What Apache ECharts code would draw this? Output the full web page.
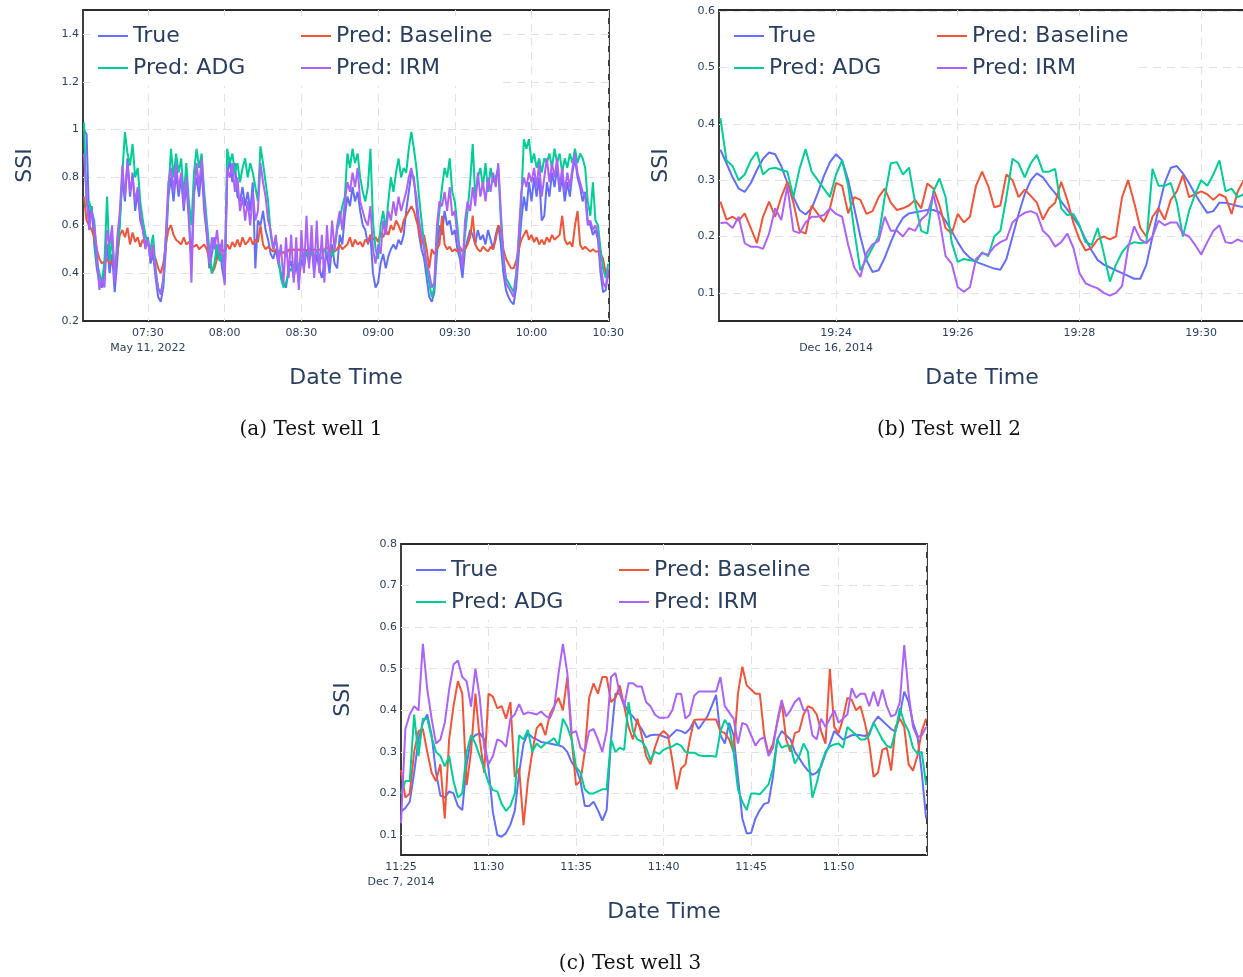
<!DOCTYPE html>
<html>
<head>
<meta charset="utf-8">
<script src="https://cdn.jsdelivr.net/npm/echarts@6/dist/echarts.min.js"></script>
<style>
  html, body { margin: 0; background: #fff; }
  #chart { width: 1243px; height: 977px; }
</style>
</head>
<body>
<div id="chart"></div>
<script>
// ---- data: times are minutes after midnight, one reading per sample step ----
// (a) Test well 1, 1 min steps from 07:05
const aStart = 425, aStep = 1
const aXTicks = ['07:30', '08:00', '08:30', '09:00', '09:30', '10:00', '10:30']
const aYTicks = [0.2, 0.4, 0.6, 0.8, 1, 1.2, 1.4]
const aTrue = [
  1.00,0.98,0.62,0.68,0.52,0.42,0.36,0.34,0.40,0.52, 0.40,0.48,0.32,0.45,0.62,0.80,0.70,0.88,0.72,0.82,
  0.66,0.74,0.62,0.58,0.52,0.55,0.44,0.48,0.38,0.30, 0.28,0.34,0.50,0.72,0.80,0.70,0.82,0.72,0.80,0.66,
  0.78,0.62,0.45,0.74,0.80,0.72,0.84,0.66,0.56,0.42, 0.48,0.55,0.46,0.52,0.42,0.36,0.80,0.88,0.78,0.86,
  0.72,0.70,0.76,0.68,0.74,0.66,0.78,0.42,0.62,0.60, 0.66,0.58,0.54,0.48,0.46,0.50,0.44,0.40,0.36,0.34,
  0.42,0.45,0.38,0.44,0.36,0.46,0.42,0.50,0.44,0.52, 0.40,0.48,0.42,0.38,0.44,0.48,0.40,0.52,0.44,0.42,
  0.56,0.52,0.64,0.72,0.68,0.76,0.70,0.74,0.66,0.60, 0.58,0.52,0.56,0.40,0.34,0.36,0.44,0.48,0.42,0.47,
  0.50,0.52,0.50,0.54,0.52,0.56,0.66,0.74,0.82,0.80, 0.68,0.56,0.50,0.46,0.38,0.30,0.28,0.32,0.48,0.60,
  0.56,0.66,0.60,0.62,0.56,0.58,0.50,0.46,0.38,0.50, 0.54,0.58,0.56,0.52,0.58,0.54,0.56,0.52,0.58,0.54,
  0.50,0.56,0.60,0.52,0.40,0.33,0.30,0.28,0.27,0.34, 0.48,0.62,0.72,0.66,0.78,0.70,0.80,0.72,0.80,0.62,
  0.64,0.78,0.72,0.82,0.76,0.84,0.74,0.80,0.70,0.78, 0.72,0.82,0.88,0.80,0.76,0.70,0.74,0.62,0.60,0.56,
  0.58,0.54,0.40,0.32,0.33,0.40
]
const aBaseline = [
  0.72,0.62,0.60,0.58,0.55,0.50,0.46,0.44,0.45,0.46, 0.44,0.45,0.42,0.48,0.56,0.58,0.55,0.59,0.52,0.57,
  0.53,0.55,0.51,0.54,0.52,0.53,0.50,0.48,0.46,0.42, 0.40,0.44,0.52,0.58,0.60,0.56,0.54,0.53,0.52,0.55,
  0.52,0.53,0.52,0.51,0.52,0.50,0.51,0.52,0.50,0.46, 0.40,0.42,0.46,0.48,0.50,0.49,0.52,0.50,0.53,0.51,
  0.54,0.51,0.55,0.52,0.53,0.55,0.52,0.54,0.53,0.60, 0.52,0.50,0.51,0.50,0.49,0.50,0.49,0.48,0.49,0.47,
  0.50,0.49,0.50,0.49,0.50,0.49,0.50,0.49,0.50,0.49, 0.50,0.49,0.50,0.49,0.50,0.51,0.49,0.50,0.49,0.50,
  0.52,0.50,0.51,0.52,0.55,0.51,0.54,0.52,0.53,0.51, 0.54,0.53,0.56,0.54,0.55,0.53,0.57,0.55,0.58,0.56,
  0.60,0.58,0.62,0.60,0.57,0.62,0.64,0.66,0.68,0.66, 0.62,0.58,0.52,0.56,0.50,0.42,0.50,0.48,0.50,0.52,
  0.64,0.52,0.50,0.51,0.49,0.50,0.49,0.51,0.49,0.50, 0.52,0.55,0.64,0.52,0.50,0.49,0.51,0.50,0.49,0.51,
  0.50,0.54,0.60,0.58,0.50,0.46,0.44,0.42,0.42,0.45, 0.50,0.54,0.56,0.58,0.54,0.56,0.53,0.55,0.52,0.54,
  0.52,0.55,0.53,0.56,0.54,0.55,0.56,0.64,0.54,0.52, 0.53,0.51,0.60,0.66,0.52,0.50,0.51,0.50,0.49,0.50,
  0.49,0.49,0.48,0.46,0.40,0.38
]
const aADG = [
  1.03,0.68,0.70,0.66,0.62,0.45,0.40,0.36,0.45,0.72, 0.45,0.55,0.40,0.50,0.60,0.82,0.99,0.90,0.85,0.94,
  0.80,0.84,0.70,0.62,0.56,0.52,0.50,0.56,0.42,0.33, 0.32,0.36,0.55,0.74,0.92,0.80,0.90,0.82,0.88,0.72,
  0.86,0.70,0.60,0.82,0.92,0.84,0.90,0.74,0.62,0.50, 0.40,0.44,0.52,0.45,0.48,0.38,0.92,0.86,0.90,0.82,
  0.86,0.78,0.84,0.88,0.80,0.86,0.82,0.76,0.70,0.93, 0.86,0.78,0.70,0.56,0.50,0.54,0.48,0.38,0.34,0.36,
  0.40,0.42,0.40,0.46,0.42,0.48,0.46,0.48,0.50,0.48, 0.46,0.50,0.47,0.46,0.50,0.48,0.50,0.47,0.50,0.58,
  0.62,0.68,0.72,0.90,0.84,0.92,0.86,0.90,0.80,0.74, 0.70,0.76,0.92,0.62,0.50,0.46,0.60,0.66,0.58,0.70,
  0.80,0.74,0.82,0.88,0.80,0.84,0.82,0.92,0.99,0.92, 0.84,0.72,0.62,0.52,0.42,0.36,0.30,0.34,0.56,0.66,
  0.76,0.84,0.80,0.88,0.74,0.70,0.60,0.48,0.44,0.56, 0.66,0.78,0.94,0.72,0.80,0.84,0.76,0.86,0.74,0.84,
  0.78,0.80,0.84,0.62,0.46,0.38,0.36,0.34,0.32,0.40, 0.54,0.70,0.96,0.92,0.96,0.86,0.90,0.84,0.88,0.82,
  0.88,0.86,0.90,0.84,0.92,0.86,0.90,0.82,0.88,0.84, 0.90,0.86,0.92,0.86,0.90,0.88,0.84,0.70,0.64,0.78,
  0.62,0.60,0.50,0.42,0.38,0.44
]
const aIRM = [
  0.90,0.72,0.58,0.66,0.60,0.50,0.33,0.38,0.34,0.58, 0.52,0.60,0.36,0.55,0.66,0.85,0.72,0.86,0.74,0.80,
  0.70,0.76,0.65,0.58,0.50,0.54,0.46,0.52,0.40,0.34, 0.31,0.38,0.56,0.78,0.84,0.74,0.86,0.75,0.82,0.68,
  0.80,0.66,0.36,0.72,0.86,0.76,0.88,0.70,0.58,0.44, 0.55,0.50,0.58,0.48,0.54,0.35,0.84,0.80,0.86,0.74,
  0.80,0.66,0.72,0.62,0.70,0.60,0.74,0.62,0.66,0.86, 0.78,0.72,0.62,0.58,0.50,0.56,0.44,0.52,0.36,0.55,
  0.38,0.56,0.36,0.55,0.33,0.58,0.40,0.64,0.42,0.60, 0.38,0.62,0.40,0.56,0.36,0.60,0.44,0.62,0.50,0.60,
  0.66,0.58,0.70,0.78,0.74,0.82,0.76,0.84,0.70,0.66, 0.62,0.60,0.68,0.50,0.44,0.52,0.48,0.62,0.56,0.66,
  0.62,0.70,0.64,0.72,0.66,0.70,0.74,0.80,0.84,0.78, 0.72,0.62,0.56,0.50,0.44,0.40,0.34,0.36,0.60,0.70,
  0.68,0.74,0.66,0.76,0.64,0.66,0.55,0.50,0.42,0.62, 0.70,0.66,0.76,0.68,0.82,0.72,0.78,0.70,0.80,0.74,
  0.82,0.76,0.86,0.66,0.48,0.36,0.34,0.32,0.30,0.38, 0.56,0.74,0.80,0.76,0.82,0.78,0.84,0.76,0.86,0.72,
  0.80,0.88,0.78,0.86,0.80,0.88,0.76,0.84,0.74,0.82, 0.76,0.84,0.90,0.82,0.78,0.74,0.72,0.60,0.62,0.58,
  0.60,0.56,0.44,0.36,0.34,0.42
]

// (b) Test well 2, 6 s steps from 19:22:06
const bStart = 1162.1, bStep = 0.1
const bXTicks = ['19:24', '19:26', '19:28', '19:30']
const bYTicks = [0.1, 0.2, 0.3, 0.4, 0.5, 0.6]
const bTrue = [
  0.354,0.33,0.305,0.285,0.279,0.295,0.318,0.338,0.349,0.346,
  0.325,0.295,0.27,0.247,0.239,0.25,0.277,0.307,0.332,0.346,
  0.335,0.3,0.25,0.2,0.158,0.137,0.14,0.162,0.19,0.215,
  0.233,0.241,0.243,0.245,0.247,0.247,0.243,0.228,0.21,0.19,
  0.173,0.162,0.155,0.151,0.147,0.143,0.141,0.16,0.2,0.24,
  0.275,0.3,0.312,0.305,0.29,0.277,0.262,0.248,0.233,0.218,
  0.195,0.175,0.158,0.15,0.145,0.14,0.135,0.13,0.125,0.125,
  0.15,0.2,0.25,0.295,0.322,0.325,0.312,0.295,0.275,0.258,
  0.242,0.245,0.26,0.26,0.257,0.254,0.252
]
const bBaseline = [
  0.262,0.23,0.235,0.228,0.241,0.215,0.188,0.235,0.262,0.235,
  0.27,0.297,0.26,0.21,0.205,0.255,0.24,0.226,0.25,0.295,
  0.29,0.241,0.27,0.265,0.24,0.245,0.27,0.285,0.26,0.247,
  0.25,0.255,0.265,0.25,0.294,0.285,0.255,0.215,0.205,0.24,
  0.225,0.235,0.29,0.315,0.29,0.252,0.255,0.31,0.3,0.27,
  0.283,0.272,0.26,0.23,0.25,0.26,0.297,0.265,0.224,0.195,
  0.175,0.18,0.195,0.2,0.195,0.2,0.27,0.3,0.26,0.215,
  0.2,0.235,0.25,0.23,0.265,0.28,0.309,0.27,0.275,0.28,
  0.275,0.265,0.275,0.27,0.24,0.28,0.3
]
const bADG = [
  0.41,0.335,0.325,0.30,0.31,0.335,0.35,0.31,0.32,0.322,
  0.318,0.315,0.27,0.32,0.355,0.315,0.30,0.285,0.27,0.31,
  0.335,0.29,0.21,0.14,0.16,0.18,0.20,0.27,0.33,0.332,
  0.31,0.322,0.26,0.21,0.205,0.28,0.303,0.27,0.19,0.155,
  0.16,0.158,0.155,0.172,0.165,0.2,0.21,0.27,0.338,0.33,
  0.305,0.33,0.345,0.315,0.315,0.32,0.25,0.238,0.24,0.22,
  0.19,0.185,0.215,0.17,0.12,0.15,0.172,0.185,0.19,0.188,
  0.19,0.32,0.29,0.29,0.295,0.26,0.2,0.245,0.275,0.3,
  0.29,0.31,0.335,0.28,0.285,0.27,0.275
]
const bIRM = [
  0.224,0.225,0.215,0.235,0.188,0.182,0.182,0.178,0.205,0.25,
  0.229,0.29,0.21,0.206,0.225,0.235,0.235,0.238,0.25,0.24,
  0.235,0.185,0.145,0.128,0.17,0.186,0.192,0.235,0.21,0.21,
  0.2,0.215,0.21,0.23,0.24,0.275,0.23,0.165,0.152,0.11,
  0.102,0.11,0.16,0.17,0.168,0.182,0.19,0.195,0.225,0.235,
  0.242,0.245,0.24,0.21,0.2,0.182,0.19,0.205,0.18,0.135,
  0.117,0.112,0.108,0.1,0.095,0.1,0.112,0.18,0.218,0.195,
  0.188,0.2,0.228,0.22,0.225,0.225,0.205,0.2,0.185,0.168,
  0.19,0.21,0.22,0.19,0.188,0.195,0.19
]

// (c) Test well 3, 15 s steps from 11:25
const cStart = 685, cStep = 0.25
const cXTicks = ['11:25', '11:30', '11:35', '11:40', '11:45', '11:50']
const cYTicks = [0.1, 0.2, 0.3, 0.4, 0.5, 0.6, 0.7, 0.8]
const cTrue = [
  0.156,0.165,0.18,0.25,0.33,0.37,0.39,0.34,0.25,0.195,
  0.19,0.205,0.2,0.17,0.16,0.27,0.33,0.34,0.345,0.33,
  0.26,0.155,0.1,0.096,0.105,0.125,0.158,0.25,0.32,0.345,
  0.335,0.33,0.324,0.322,0.32,0.318,0.316,0.312,0.3,0.275,
  0.26,0.23,0.17,0.17,0.18,0.16,0.135,0.16,0.33,0.44,
  0.44,0.415,0.395,0.385,0.37,0.355,0.335,0.34,0.341,0.341,
  0.337,0.333,0.343,0.353,0.35,0.345,0.355,0.375,0.355,0.37,
  0.385,0.41,0.437,0.34,0.32,0.37,0.34,0.24,0.14,0.104,
  0.105,0.14,0.16,0.175,0.178,0.24,0.33,0.35,0.34,0.33,
  0.3,0.285,0.268,0.255,0.245,0.25,0.265,0.295,0.32,0.35,
  0.34,0.33,0.335,0.34,0.341,0.34,0.338,0.345,0.37,0.385,
  0.375,0.365,0.355,0.349,0.39,0.445,0.42,0.37,0.34,0.25,
  0.14
]
const cBaseline = [
  0.256,0.19,0.2,0.3,0.35,0.355,0.3,0.25,0.23,0.27,
  0.14,0.33,0.41,0.47,0.44,0.22,0.30,0.44,0.33,0.25,
  0.44,0.433,0.405,0.41,0.38,0.42,0.24,0.26,0.124,0.23,
  0.30,0.357,0.369,0.34,0.39,0.41,0.43,0.40,0.48,0.33,
  0.22,0.23,0.3,0.43,0.465,0.44,0.48,0.48,0.42,0.43,
  0.46,0.41,0.36,0.33,0.38,0.34,0.29,0.27,0.31,0.34,
  0.35,0.34,0.28,0.21,0.26,0.27,0.33,0.377,0.378,0.378,
  0.378,0.378,0.378,0.35,0.345,0.33,0.3,0.44,0.505,0.46,
  0.45,0.44,0.44,0.34,0.295,0.32,0.37,0.421,0.33,0.3,
  0.345,0.35,0.39,0.41,0.405,0.39,0.35,0.32,0.5,0.36,
  0.345,0.38,0.43,0.425,0.4,0.41,0.37,0.32,0.24,0.25,
  0.305,0.31,0.255,0.36,0.38,0.36,0.27,0.255,0.29,0.35,
  0.38
]
const cADG = [
  0.2,0.23,0.23,0.39,0.29,0.38,0.38,0.335,0.3,0.29,
  0.265,0.29,0.23,0.19,0.2,0.3,0.34,0.32,0.29,0.26,
  0.225,0.208,0.205,0.175,0.158,0.17,0.2,0.34,0.33,0.353,
  0.3,0.32,0.31,0.32,0.325,0.333,0.315,0.38,0.36,0.33,
  0.264,0.25,0.21,0.2,0.2,0.205,0.21,0.21,0.33,0.3,
  0.31,0.305,0.42,0.35,0.33,0.325,0.31,0.28,0.3,0.295,
  0.305,0.31,0.313,0.32,0.315,0.3,0.298,0.298,0.292,0.29,
  0.29,0.29,0.288,0.35,0.377,0.36,0.3,0.21,0.18,0.16,
  0.2,0.2,0.198,0.21,0.222,0.26,0.33,0.31,0.315,0.315,
  0.272,0.29,0.32,0.3,0.19,0.225,0.27,0.3,0.313,0.318,
  0.32,0.31,0.36,0.35,0.34,0.33,0.33,0.34,0.37,0.35,
  0.33,0.315,0.31,0.35,0.405,0.37,0.35,0.31,0.296,0.3,
  0.22
]
const cIRM = [
  0.128,0.355,0.39,0.41,0.4,0.56,0.45,0.38,0.32,0.33,
  0.37,0.45,0.51,0.52,0.48,0.47,0.409,0.5,0.43,0.31,
  0.27,0.29,0.33,0.325,0.312,0.38,0.39,0.415,0.39,0.395,
  0.393,0.39,0.397,0.387,0.38,0.405,0.489,0.56,0.49,0.345,
  0.35,0.31,0.3,0.35,0.355,0.33,0.3,0.35,0.48,0.49,
  0.44,0.41,0.465,0.465,0.457,0.457,0.42,0.41,0.39,0.382,
  0.382,0.383,0.4,0.44,0.44,0.38,0.39,0.435,0.445,0.445,
  0.445,0.445,0.445,0.48,0.41,0.395,0.38,0.32,0.37,0.365,
  0.34,0.315,0.33,0.335,0.29,0.31,0.375,0.425,0.385,0.4,
  0.42,0.43,0.4,0.401,0.34,0.33,0.38,0.36,0.38,0.4,
  0.37,0.38,0.39,0.453,0.43,0.44,0.44,0.41,0.445,0.41,
  0.45,0.41,0.385,0.39,0.42,0.557,0.44,0.36,0.335,0.34,
  0.36
]

const COLORS = {
  'True': '#636efa',
  'Pred: Baseline': '#EF553B',
  'Pred: ADG': '#00cc96',
  'Pred: IRM': '#ab63fa'
}
const FONT = 'DejaVu Sans'
const INK = '#2a3f5f'

const pad = n => (n < 10 ? '0' : '') + n
const hhmm = m => {
  const total = Math.round(m * 60)
  return pad(Math.floor(total / 3600)) + ':' + pad(Math.floor(total / 60) % 60)
}

// only the tick labels listed are shown, first one gets the date underneath
const xFmt = (ticks, date) => v => {
  if (Math.abs(v * 60 - Math.round(v * 60)) > 1e-6) return ''
  const s = hhmm(v)
  if (ticks.indexOf(s) < 0) return ''
  return s === ticks[0] ? s + '\n' + date : s
}
const yFmt = ticks => v => {
  const hit = ticks.find(t => Math.abs(t - v) < 1e-6)
  return hit === undefined ? '' : String(hit)
}

const splitStyle = {
  show: true, showMinLine: false, showMaxLine: false,
  lineStyle: { color: '#e2e2e2', width: 1, type: [8, 6] }
}

const xAxis = (idx, min, max, splitNumber, ticks, date) => ({
  type: 'value', gridIndex: idx, min, max, splitNumber,
  axisLine: { show: false }, axisTick: { show: false },
  splitLine: splitStyle,
  axisLabel: { fontSize: 11, color: INK, fontFamily: FONT, margin: 5, lineHeight: 15, formatter: xFmt(ticks, date) },
  name: 'Date Time', nameLocation: 'middle', nameGap: 46,
  nameTextStyle: { fontSize: 22, color: INK, fontFamily: FONT }
})
const yAxis = (idx, min, max, splitNumber, ticks) => ({
  type: 'value', gridIndex: idx, min, max, splitNumber,
  axisLine: { show: false }, axisTick: { show: false },
  splitLine: splitStyle,
  axisLabel: { fontSize: 11, color: INK, fontFamily: FONT, margin: 4, formatter: yFmt(ticks) },
  name: 'SSI', nameLocation: 'middle', nameGap: 47,
  nameTextStyle: { fontSize: 22, color: INK, fontFamily: FONT }
})

const line = (name, idx, t0, dt, values) => ({
  name, type: 'line', xAxisIndex: idx, yAxisIndex: idx,
  data: values.map((v, i) => [t0 + dt * i, v]),
  showSymbol: false, symbol: 'none', clip: true,
  lineStyle: { width: 2, color: COLORS[name] },
  itemStyle: { color: COLORS[name] }
})

const legendCol = (left, top, names) => ({
  data: names, orient: 'vertical', left, top, padding: 0,
  itemWidth: 30, itemHeight: 2, itemGap: 10, icon: 'rect', selectedMode: false,
  textStyle: { fontSize: 22, lineHeight: 22, color: INK, fontFamily: FONT }
})
const legends = (left, top) => [
  legendCol(left, top, ['True', 'Pred: ADG']),
  legendCol(left + 203, top, ['Pred: Baseline', 'Pred: IRM'])
]

const legendBox = (x, y) => ({ type: 'rect', z: 3, shape: { x, y, width: 409, height: 70 }, style: { fill: '#fff' } })
const caption = (x, y, text) => ({
  type: 'text', x, y, z: 5,
  style: { text, fontSize: 20, fontFamily: 'DejaVu Serif', fill: '#111', align: 'center', verticalAlign: 'middle' }
})

const chart = echarts.init(document.getElementById('chart'))
const gridFrame = {
  show: true, borderColor: '#2b2b2b', borderWidth: 1.8, backgroundColor: 'transparent',
  outerBoundsMode: 'none', containLabel: false
}

chart.setOption({
  animation: false,
  backgroundColor: '#fff',
  grid: [
    Object.assign({ left: 83, top: 10, width: 526, height: 311 }, gridFrame),
    Object.assign({ left: 719, top: 10, width: 526, height: 311 }, gridFrame),
    Object.assign({ left: 401, top: 544, width: 526, height: 311 }, gridFrame)
  ],
  xAxis: [
    xAxis(0, 424.6, 630.3, 7, aXTicks, 'May 11, 2022'),
    xAxis(1, 1162.077, 1170.72, 4, bXTicks, 'Dec 16, 2014'),
    xAxis(2, 685, 715.05, 6, cXTicks, 'Dec 7, 2014')
  ],
  yAxis: [
    yAxis(0, 0.2, 1.5, 6, aYTicks),
    yAxis(1, 0.05, 0.602, 5, bYTicks),
    yAxis(2, 0.052, 0.8, 7, cYTicks)
  ],
  legend: [].concat(legends(98, 25), legends(734, 25), legends(416, 559)),
  graphic: [
    legendBox(93, 16), legendBox(729, 16), legendBox(411, 550),
    caption(311, 430, '(a) Test well 1'),
    caption(949, 430, '(b) Test well 2'),
    caption(630, 964, '(c) Test well 3')
  ],
  series: [
    line('True', 0, aStart, aStep, aTrue),
    line('Pred: Baseline', 0, aStart, aStep, aBaseline),
    line('Pred: ADG', 0, aStart, aStep, aADG),
    line('Pred: IRM', 0, aStart, aStep, aIRM),
    line('True', 1, bStart, bStep, bTrue),
    line('Pred: Baseline', 1, bStart, bStep, bBaseline),
    line('Pred: ADG', 1, bStart, bStep, bADG),
    line('Pred: IRM', 1, bStart, bStep, bIRM),
    line('True', 2, cStart, cStep, cTrue),
    line('Pred: Baseline', 2, cStart, cStep, cBaseline),
    line('Pred: ADG', 2, cStart, cStep, cADG),
    line('Pred: IRM', 2, cStart, cStep, cIRM)
  ]
})

window.addEventListener('resize', function () {
  chart.resize()
})
</script>
</body>
</html>
